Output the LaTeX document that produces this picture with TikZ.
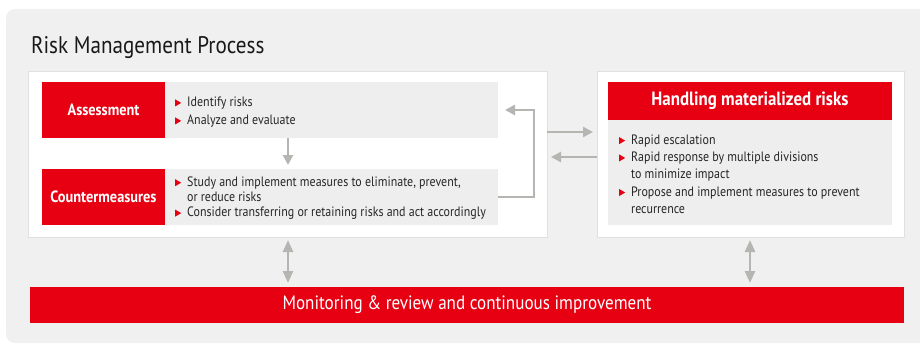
\documentclass[tikz,border=0pt]{standalone}
\usepackage{fontspec}
\setmainfont{PT Sans}[FakeStretch=0.88]
\usetikzlibrary{arrows.meta}
\definecolor{fred}{HTML}{E60012}
\definecolor{panel}{HTML}{F0F0F0}
\definecolor{tgray}{HTML}{EEEEEE}
\definecolor{agray}{HTML}{B5B6B1}
\definecolor{bline}{HTML}{E0E0E0}
\newcommand\rbul{\llap{\tikz[baseline=0pt]\fill[fred] (0pt,0pt)--(0pt,7pt)--(6pt,3.5pt)--cycle;\hspace{6pt}}}
\tikzset{
  blk/.style={inner sep=0pt, outer sep=0pt, anchor=north west},
  wbox/.style={blk, fill=white, draw=bline, line width=0.6pt},
  rbox/.style={blk, fill=fred, text=white, font=\fontsize{16.3}{18}\selectfont\bfseries},
  gbox/.style={blk, fill=tgray},
  btext/.style={inner sep=0pt, anchor=west, align=left, text=black!85},
  garrow/.style={draw=agray, line width=2.6pt, -{Triangle[width=10pt,length=10pt]}},
  gdarrow/.style={draw=agray, line width=2.6pt, {Triangle[width=10pt,length=12pt]}-{Triangle[width=10pt,length=12pt]}}
}
\begin{document}
\begin{tikzpicture}[x=1pt,y=-1pt]
\useasboundingbox (0,0) rectangle (920,345);
\clip (0,0) rectangle (920,345);
\fill[panel, rounded corners=9pt] (6,9) rectangle (945,343);
\node[blk, anchor=base west, font=\fontsize{24}{28}\selectfont, text=black!90] (title) at (31,53) {Risk Management Process};

% left white box
\node[wbox, minimum width=519pt, minimum height=166pt] (lw) at (28,71) {};
\node[gbox, minimum width=333pt, minimum height=56pt] (asg) at (165,82) {};
\node[rbox, minimum width=123pt, minimum height=56pt] (asr) at (42,82) {Assessment};
\node[gbox, minimum width=333pt, minimum height=56pt] (csg) at (165,169) {};
\node[rbox, minimum width=123pt, minimum height=56pt] (csr) at (42,169) {Countermeasures};

\node[btext, font=\fontsize{13.6}{18}\selectfont] (ast) at (187,112)
  {\rbul Identify risks\\ \rbul Analyze and evaluate};
\node[btext, font=\fontsize{13.6}{15.2}\selectfont] (cst) at (187,198)
  {\rbul Study and implement measures to eliminate, prevent,\\ or reduce risks\\ \rbul Consider transferring or retaining risks and act accordingly};

% right white box
\node[wbox, minimum width=307pt, minimum height=166pt] (rw) at (597,71) {};
\node[rbox, minimum width=284pt, minimum height=38pt, font=\fontsize{19.2}{22}\selectfont\bfseries] (hr) at (608,82) {Handling materialized risks};
\node[gbox, minimum width=284pt, minimum height=105pt] (hg) at (608,120) {};
\node[btext, font=\fontsize{13.6}{17.3}\selectfont] (ht) at (631,174)
  {\rbul Rapid escalation\\ \rbul Rapid response by multiple divisions\\ to minimize impact\\ \rbul Propose and implement measures to prevent\\ recurrence};

% bottom bar
\node[rbox, minimum width=874pt, minimum height=36pt, font=\fontsize{19.4}{22}\selectfont] (bar) at (30,287) {Monitoring \& review and continuous improvement};

% arrows
\coordinate (dx) at (288,0);
\coordinate (ex) at (750,0);
\draw[garrow, shorten >=4pt] (asg.south -| dx) -- (csg.north -| dx);
\draw[garrow, shorten >=7pt] (csg.east) -- ++(36,0) |- (asg.east);
\draw[garrow, shorten >=4pt] ([yshift=22pt]lw.east) -- ([yshift=22pt]rw.west);
\draw[garrow, shorten >=4pt] ([yshift=-3pt]rw.west) -- ([yshift=-3pt]lw.east);
\draw[gdarrow, shorten <=3pt, shorten >=4pt] (lw.south -| dx) -- (bar.north -| dx);
\draw[gdarrow, shorten <=3pt, shorten >=4pt] (rw.south -| ex) -- (bar.north -| ex);
\end{tikzpicture}
\end{document}
